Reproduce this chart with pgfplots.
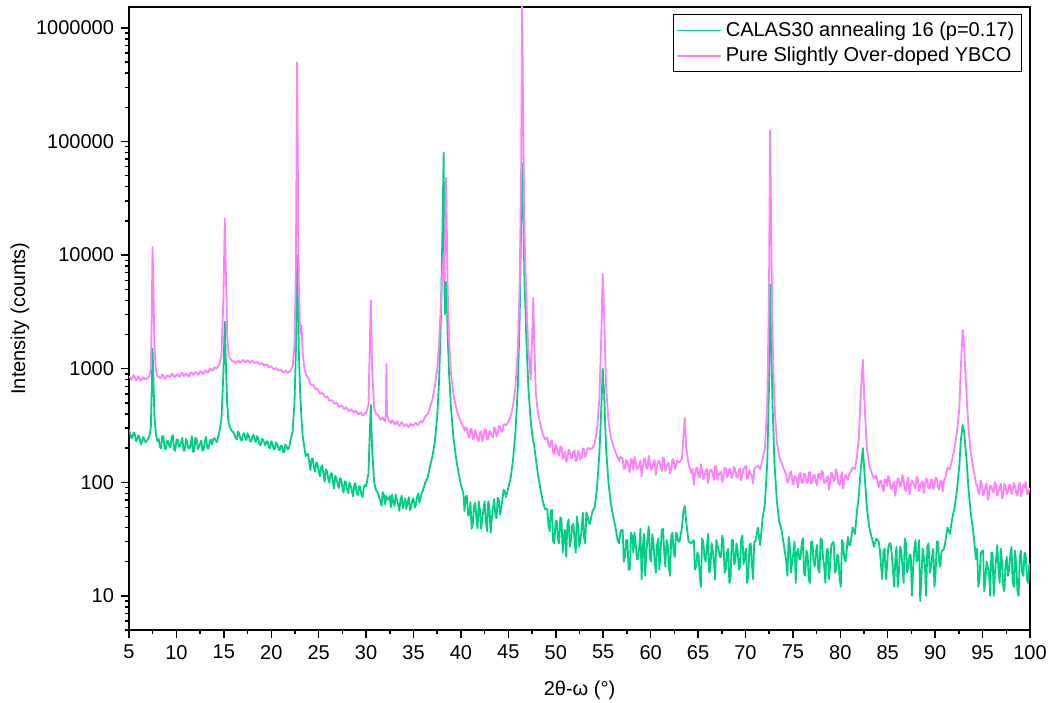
\documentclass[border=0pt]{standalone}
\usepackage{fontspec}
\setmainfont{Liberation Sans}
\usepackage{pgfplots}
\usepackage{pgfplotstable}
\pgfplotsset{compat=1.18}
\usetikzlibrary{calc}
\definecolor{cgreen}{HTML}{00D084}
\definecolor{cpink}{HTML}{FF80FF}

\pgfplotstableread{
x g p
5.00 290 860
5.125 268 830
5.25 245 800
5.375 250 840
5.50 275 880
5.625 262 835
5.75 230 790
5.875 240 815
6.00 260 850
6.125 245 820
6.25 215 780
6.375 228 805
6.50 250 840
6.625 238 820
6.75 225 800
6.875 232 815
7.00 240 830
7.15 255 860
7.30 300 1000
7.40 650 3000
7.48 1500 11800
7.56 900 6000
7.68 380 1500
7.85 260 960
8.00 230 850
8.125 242 857
8.25 205 830
8.375 198 829
8.50 255 890
8.625 253 876
8.75 200 815
8.875 194 828
9.00 230 865
9.125 231 872
9.25 210 845
9.375 202 844
9.50 250 905
9.625 260 901
9.75 195 845
9.875 189 848
10.00 235 885
10.125 238 893
10.25 205 860
10.375 209 858
10.50 225 915
10.625 246 917
10.75 190 865
10.875 191 867
11.00 240 905
11.125 229 898
11.25 200 858
11.375 198 868
11.50 215 925
11.625 255 927
11.75 185 880
11.875 187 887
12.00 245 935
12.125 242 928
12.25 195 885
12.375 205 888
12.50 220 945
12.625 233 948
12.75 190 900
12.875 194 911
13.00 230 965
13.125 251 964
13.25 200 925
13.375 198 931
13.50 225 995
13.625 238 1004
13.75 215 960
13.875 240 970
14.00 245 1025
14.25 225 1000
14.50 270 1080
14.75 360 1300
14.95 900 4000
15.10 2600 21000
15.20 1200 8000
15.35 500 2000
15.50 330 1300
15.75 290 1200
16.00 275 1150
16.125 262 1165
16.25 245 1120
16.375 238 1128
16.50 280 1185
16.625 268 1160
16.75 240 1130
16.875 232 1150
17.00 260 1195
17.125 270 1170
17.25 250 1140
17.375 236 1150
17.50 270 1185
17.625 258 1165
17.75 230 1125
17.875 228 1140
18.00 250 1175
18.125 262 1155
18.25 235 1120
18.375 226 1130
18.50 255 1155
18.625 245 1125
18.75 215 1100
18.875 212 1105
19.00 240 1125
19.125 238 1095
19.25 225 1060
19.375 210 1080
19.50 230 1095
19.625 228 1060
19.75 205 1030
19.875 198 1040
20.00 230 1050
20.125 222 1020
20.25 195 990
20.375 195 1000
20.50 225 1015
20.625 215 985
20.75 200 960
20.875 190 970
21.00 210 985
21.125 208 955
21.25 185 930
21.375 185 940
21.50 215 955
21.625 205 935
21.75 195 920
21.875 200 935
22.00 230 950
22.25 280 1050
22.45 500 1600
22.60 1500 8000
22.72 10000 500000
22.80 6000 60000
22.90 1500 6000
23.05 600 2000
23.20 350 2400
23.30 260 1400
23.50 200 1000
23.625 170 911
23.75 175 860
23.875 178 845
24.00 150 790
24.125 128 732
24.25 160 720
24.375 162 726
24.50 135 705
24.625 124 668
24.75 150 660
24.875 144 670
25.00 125 640
25.125 113 601
25.25 135 605
25.375 141 612
25.50 118 598
25.625 101 566
25.75 130 560
25.875 125 572
26.00 108 552
26.125 99 520
26.25 118 525
26.375 120 528
26.50 100 515
26.625 88 492
26.75 114 492
26.875 108 503
27.00 96 485
27.125 89 461
27.25 108 462
27.375 106 471
27.50 90 468
27.625 81 444
27.75 102 442
27.875 100 457
28.00 86 447
28.125 80 424
28.25 100 428
28.375 93 439
28.50 84 432
28.625 75 415
28.75 95 410
28.875 98 428
29.00 80 418
29.125 77 398
29.25 92 398
29.375 91 412
29.50 78 406
29.625 74 390
29.75 90 392
29.875 95 408
30.00 92 405
30.25 120 480
30.38 260 1500
30.50 480 4000
30.63 200 1000
30.85 100 450
31.05 85 400
31.25 80 390
31.375 74 372
31.50 68 355
31.625 62 360
31.75 82 372
31.875 77 355
32.00 64 345
32.10 76 400
32.15 70 1100
32.20 74 400
32.40 70 350
32.50 76 338
32.60 60 330
32.75 78 352
32.875 66 340
33.00 62 322
33.125 78 330
33.25 70 345
33.375 64 328
33.50 56 315
33.625 70 322
33.75 76 338
33.875 59 326
34.00 65 312
34.125 72 318
34.25 58 325
34.375 66 312
34.50 74 305
34.625 57 320
34.75 60 330
34.875 70 314
35.00 72 318
35.125 60 326
35.25 63 335
35.375 74 320
35.50 80 322
35.625 66 334
35.75 72 345
35.875 82 336
36.00 85 345
36.25 100 380
36.50 110 400
36.75 140 460
37.00 170 540
37.25 230 700
37.50 380 1000
37.70 800 1700
37.90 3000 4000
38.10 30000 8000
38.18 80000 10000
38.26 5000 6000
38.32 3000 12000
38.42 5800 48000
38.50 4500 20000
38.60 2000 5000
38.75 900 1800
38.95 450 900
39.20 250 600
39.50 160 450
39.75 120 380
40.00 95 340
40.25 80 310
40.375 56 285
40.50 75 305
40.625 76 298
40.75 51 259
40.875 52 247
41.00 67 292
41.125 39 295
41.25 43 239
41.375 61 245
41.50 66 288
41.625 49 271
41.75 39 239
41.875 68 229
42.00 57 273
42.125 39 281
42.25 47 229
42.375 57 251
42.50 68 293
42.625 45 289
42.75 37 238
42.875 68 239
43.00 62 283
43.125 36 276
43.25 47 254
43.375 59 250
43.50 71 303
43.625 52 296
43.75 48 252
43.875 73 270
44.00 69 311
44.125 52 307
44.25 60 281
44.375 70 279
44.50 86 323
44.625 83 324
44.75 74 318
45.00 90 340
45.25 110 380
45.50 160 480
45.75 280 700
46.00 700 1500
46.20 3000 6000
46.35 20000 60000
46.45 65000 1600000
46.55 30000 200000
46.70 6000 15000
46.90 1800 4000
47.10 700 1500
47.35 350 800
47.55 250 2500
47.62 230 4200
47.72 210 1800
47.90 160 600
48.10 120 420
48.35 90 330
48.60 70 270
48.85 58 240
49.10 58 248
49.225 42 216
49.35 37 202
49.475 56 228
49.60 57 231
49.725 30 185
49.85 29 176
49.975 45 214
50.10 46 205
50.225 31 180
50.35 29 171
50.475 49 206
50.60 48 207
50.725 24 160
50.85 33 171
50.975 38 186
51.10 22 151
51.225 43 163
51.35 47 194
51.475 27 187
51.60 31 163
51.725 41 165
51.85 43 184
51.975 32 191
52.10 24 153
52.225 50 157
52.35 42 189
52.475 27 181
52.60 31 158
52.725 39 165
52.85 54 199
52.975 33 194
53.10 29 167
53.225 54 179
53.35 50 197
53.475 44 201
53.60 43 195
53.85 55 200
54.10 60 220
54.35 90 290
54.60 180 550
54.80 450 2000
54.95 1000 6800
55.10 600 3000
55.30 200 700
55.55 100 350
55.80 65 250
56.05 50 210
56.30 40 185
56.55 30 162
56.675 29 154
56.80 36 168
56.925 38 165
57.05 38 162
57.175 20 131
57.30 22 133
57.425 31 157
57.55 31 152
57.675 17 136
57.80 17 123
57.925 36 160
58.05 34 157
58.175 24 128
58.30 36 167
58.425 29 151
58.55 21 131
58.675 21 133
58.80 27 142
58.925 39 155
59.05 14 113
59.175 27 138
59.30 35 160
59.425 15 160
59.55 24 135
59.675 32 131
59.80 41 171
59.925 22 149
60.05 20 128
60.175 35 135
60.30 29 148
60.425 20 157
60.55 16 116
60.675 28 141
60.80 32 154
60.925 17 152
61.05 25 138
61.175 38 125
61.30 39 165
61.425 25 162
61.55 18 125
61.675 31 138
61.80 28 145
61.925 18 148
62.05 15 119
62.175 34 131
62.30 36 160
62.425 24 158
62.55 22 131
62.675 36 139
62.80 34 155
62.925 30 151
63.05 30 150
63.30 40 160
63.45 55 250
63.60 62 370
63.75 45 200
64.00 30 145
64.30 29 120
64.425 30 131
64.55 31 95
64.675 17 116
64.80 18 134
64.925 24 134
65.05 23 113
65.175 15 110
65.30 12 144
65.425 32 126
65.55 30 107
65.675 22 113
65.80 20 124
65.925 26 132
66.05 35 98
66.175 16 118
66.30 17 129
66.425 29 128
66.55 25 116
66.675 20 105
66.80 14 139
66.925 31 137
67.05 28 105
67.175 25 116
67.30 22 122
67.425 22 124
67.55 34 100
67.675 30 110
67.80 16 134
67.925 17 133
68.05 24 110
68.175 26 117
68.30 13 131
68.425 14 127
68.55 31 109
68.675 31 117
68.80 19 137
68.925 20 129
69.05 29 112
69.175 25 110
69.30 17 128
69.425 18 132
69.55 32 104
69.675 34 115
69.80 19 132
69.925 23 134
70.05 26 140
70.175 13 107
70.30 15 110
70.425 28 127
70.55 29 120
70.675 19 112
70.80 14 98
70.925 30 131
71.05 30 134
71.30 40 140
71.55 28 130
71.80 48 160
72.05 65 200
72.30 150 500
72.48 700 5000
72.60 5500 125000
72.70 1800 20000
72.85 500 2000
73.05 150 500
73.30 70 230
73.55 45 170
73.80 38 150
74.05 28 130
74.30 20 117
74.425 15 99
74.55 33 105
74.675 28 120
74.80 16 125
74.925 20 106
75.05 24 95
75.175 30 114
75.30 13 110
75.425 24 106
75.55 26 90
75.675 21 117
75.80 21 121
75.925 29 99
76.05 32 99
76.175 16 119
76.30 15 118
76.425 25 103
76.55 23 98
76.675 14 121
76.80 13 123
76.925 30 97
77.05 30 101
77.175 20 114
77.30 18 116
77.425 24 101
77.55 28 94
77.675 17 118
77.80 16 119
77.925 32 105
78.05 31 127
78.175 22 121
78.30 18 99
78.425 13 99
78.55 25 108
78.675 26 113
78.80 14 86
78.925 18 102
79.05 28 121
79.175 29 119
79.30 30 102
79.425 16 107
79.55 17 130
79.675 23 116
79.80 22 97
79.925 14 95
80.05 12 112
80.175 31 123
80.30 29 88
80.425 21 105
80.55 20 117
80.675 25 112
80.80 33 105
80.925 28 117
81.05 28 121
81.30 40 135
81.55 35 130
81.75 55 170
81.95 75 240
82.15 130 600
82.38 200 1200
82.55 120 500
82.80 60 200
83.05 40 140
83.30 33 122
83.55 27 108
83.80 32 115
84.05 30 90
84.175 25 102
84.30 18 103
84.425 14 90
84.55 25 83
84.675 26 105
84.80 14 106
84.925 18 93
85.05 26 113
85.175 29 108
85.30 29 88
85.425 23 88
85.55 17 96
85.675 12 101
85.80 21 76
85.925 27 91
86.05 12 108
86.175 16 106
86.30 27 91
86.425 25 95
86.55 18 116
86.675 13 103
86.80 32 86
86.925 29 84
87.05 16 100
87.175 18 110
87.30 23 78
87.425 23 93
87.55 10 104
87.675 17 100
87.80 26 93
87.925 31 88
88.05 20 112
88.175 21 107
88.30 31 84
88.425 9 94
88.55 14 98
88.675 26 102
88.80 22 80
88.925 18 94
89.05 10 108
89.175 27 104
89.30 29 88
89.425 16 88
89.55 18 105
89.675 22 106
89.80 26 87
89.925 12 92
90.05 16 110
90.175 30 108
90.30 30 90
90.425 20 86
90.55 18 103
90.675 25 102
90.80 25 83
90.925 26 104
91.05 29 108
91.30 40 135
91.55 35 130
91.80 48 160
92.05 60 200
92.30 85 280
92.55 140 450
92.70 230 1000
92.90 320 2200
93.05 280 1600
93.30 160 600
93.55 80 270
93.80 50 170
94.05 35 130
94.30 21 97
94.425 26 93
94.55 12 82
94.675 14 79
94.80 23 104
94.925 25 95
95.05 25 77
95.175 11 83
95.30 14 90
95.425 20 97
95.55 18 70
95.675 16 77
95.80 10 93
95.925 24 92
96.05 24 84
96.175 10 81
96.30 16 100
96.425 21 94
96.55 28 76
96.675 17 84
96.80 13 88
96.925 26 97
97.05 20 72
97.175 12 79
97.30 11 97
97.425 19 91
97.55 22 79
97.675 15 82
97.80 17 94
97.925 23 95
98.05 27 78
98.175 13 85
98.30 12 99
98.425 25 92
98.55 19 81
98.675 11 76
98.80 10 92
98.925 22 99
99.05 25 75
99.175 16 84
99.30 15 95
99.425 24 90
99.55 23 101
99.675 14 79
99.80 13 79
99.925 19 88
100.00 19 86
}\data

\begin{document}
\begin{tikzpicture}
\begin{axis}[
  name=ax,
  scale only axis,
  width=450.5pt, height=311.5pt,
  ymode=log,
  xmin=5, xmax=100, ymin=5, ymax=1530000,
  xtick={5,10,...,100},
  minor x tick num=1,
  tick pos=left,
  tick align=outside,
  major tick length=4pt,
  minor tick length=2pt,
  axis line style={line width=0.75pt},
  every tick/.style={black, line width=0.75pt},
  log ticks with fixed point,
  /pgf/number format/1000 sep={},
  /pgf/number format/assume math mode=true,
  xlabel={2θ-ω (°)},
  ylabel={Intensity (counts)},
  label style={font=\fontsize{11.5}{14}\selectfont},
  every axis x label/.style={at={(axis description cs:0.5,-0.0963)}, anchor=center},
  every axis y label/.style={at={(axis description cs:-0.121,0.5)}, anchor=center, rotate=90},
  legend style={at={(1,1)}, anchor=north east, xshift=-4pt, yshift=-3.5pt,
    draw=black, line width=0.6pt, inner sep=1.5pt, row sep=0pt,
    cells={anchor=west}, font=\normalsize},
  legend image code/.code={\draw[#1, line width=0.8pt] (0pt,0pt) -- (22pt,0pt);},
]
\addplot[cgreen, line width=0.9pt, line join=round] table[x=x, y=g]{\data};
\addlegendentry{CALAS30 annealing 16 (p=0.17)}
\addplot[cpink, line width=0.9pt, line join=round] table[x=x, y=p]{\data};
\addlegendentry{Pure Slightly Over-doped YBCO}
\end{axis}
\pgfresetboundingbox
\path ($(ax.south west)+(-64.5pt,-36pt)$) rectangle ($(ax.north east)+(10pt,3.5pt)$);
\end{tikzpicture}
\end{document}
